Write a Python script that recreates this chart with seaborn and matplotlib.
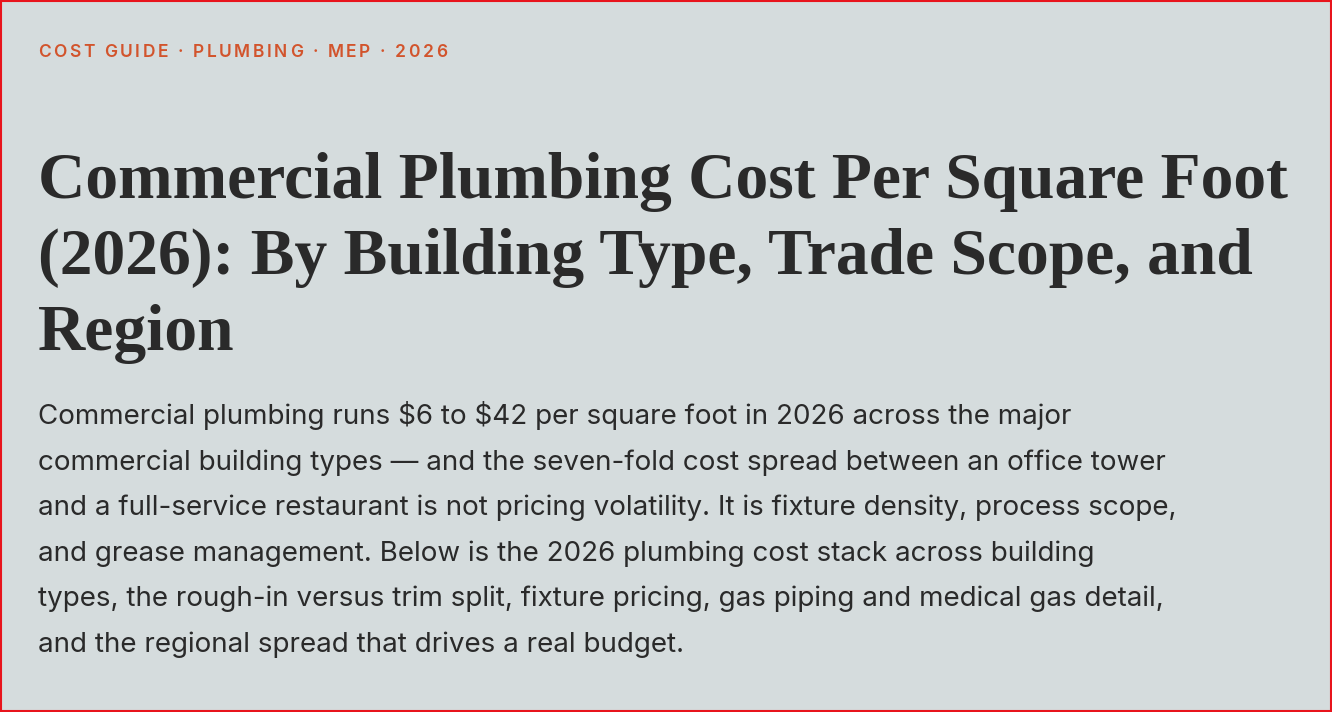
import matplotlib
matplotlib.use("Agg")
import matplotlib.pyplot as plt
import seaborn as sns

kicker = "COST GUIDE · PLUMBING · MEP · 2026"
title_lines = [
    "Commercial Plumbing Cost Per Square Foot",
    "(2026): By Building Type, Trade Scope, and",
    "Region",
]
body_lines = [
    r"Commercial plumbing runs \$6 to \$42 per square foot in 2026 across the major",
    "commercial building types — and the seven-fold cost spread between an office tower",
    "and a full-service restaurant is not pricing volatility. It is fixture density, process scope,",
    "and grease management. Below is the 2026 plumbing cost stack across building",
    "types, the rough-in versus trim split, fixture pricing, gas piping and medical gas detail,",
    "and the regional spread that drives a real budget.",
]

sns.set_theme(style="white")
W, H = 1332, 712
bg = "#d5dcdd"
fig = plt.figure(figsize=(W / 100, H / 100), dpi=100, facecolor=bg)
ax = fig.add_axes([0, 0, 1, 1])
ax.set_xlim(0, W)
ax.set_ylim(H, 0)
ax.axis("off")
ax.add_patch(plt.Rectangle((1, 1), W - 2, H - 2, fill=False, edgecolor="#e8141c", lw=1.5))
r = fig.canvas.get_renderer()

def fit(t, target):
    w = t.get_window_extent(r).width
    t.set_fontsize(t.get_fontsize() * target / w)

# kicker with letter spacing
x = 38
for ch in kicker:
    t = ax.text(x, 57, ch, color="#d2542c", fontsize=12.5, fontweight="semibold",
                family=["Inter", "DejaVu Sans"], va="baseline")
    x += t.get_window_extent(r).width + 2.6

t0 = None
for i, line in enumerate(title_lines):
    t = ax.text(38, 198 + i * 76, line, color="#2a2a2a", fontsize=46, fontweight="bold",
                family=["Liberation Serif", "DejaVu Serif"], va="baseline")
    if i == 0:
        fit(t, 1249)
        fs = t.get_fontsize()
    else:
        t.set_fontsize(fs)

for i, line in enumerate(body_lines):
    t = ax.text(38, 424 + i * 45.6, line, color="#2a2a2a", fontsize=18,
                family=["Inter", "DejaVu Sans"], va="baseline")
    if i == 2:
        fit(t, 1137)
        bfs = t.get_fontsize()
for t in ax.texts[-6:]:
    t.set_fontsize(bfs)

fig.savefig("out.png", dpi=100, facecolor=bg)
